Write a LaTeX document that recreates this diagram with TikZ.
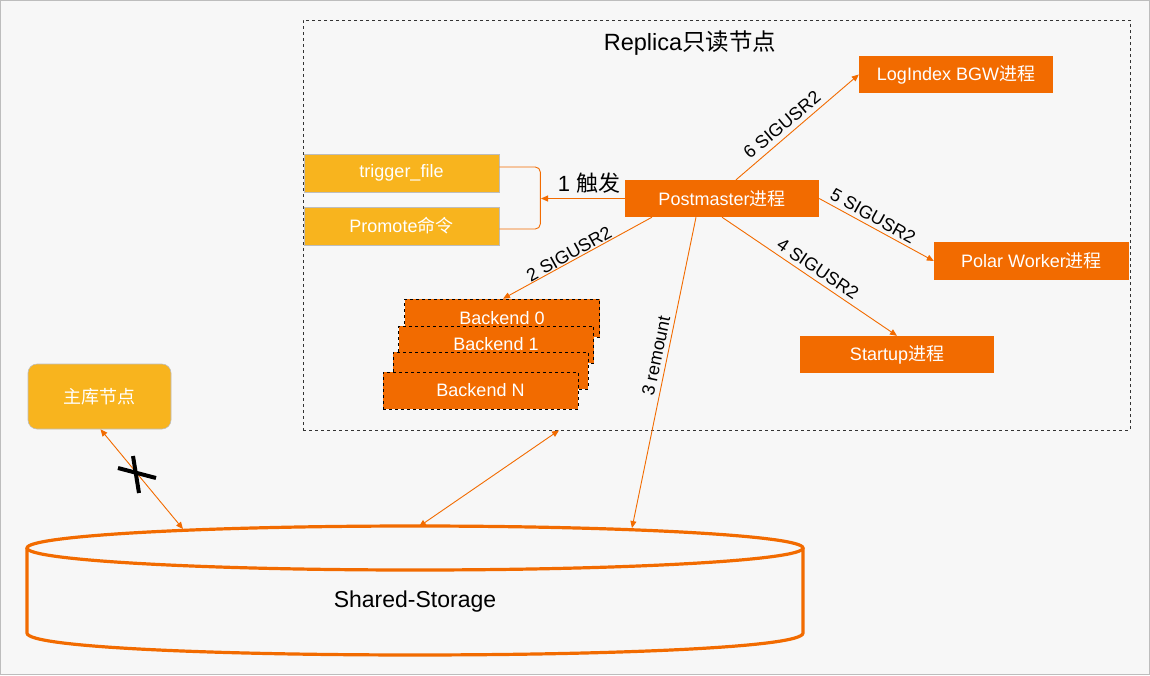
\documentclass[tikz,border=0pt]{standalone}
\usepackage{fontspec}
\setmainfont{Liberation Sans}
\newfontfamily\cjk{Noto Sans CJK SC}
\usetikzlibrary{arrows.meta,calc}
\definecolor{org}{HTML}{F26B00}
\definecolor{ylw}{HTML}{F8B41E}
\definecolor{bgc}{HTML}{F7F7F7}
\definecolor{frm}{HTML}{BDBDBD}
\begin{document}
\begin{tikzpicture}[x=1pt,y=-1pt,
  proc/.style={fill=org,text=white,minimum width=194pt,minimum height=37pt,inner sep=0pt,font=\fontsize{18}{20}\selectfont},
  trig/.style={fill=ylw,draw=frm,line width=0.6pt,text=white,minimum width=195pt,minimum height=38pt,inner sep=0pt,font=\fontsize{18}{20}\selectfont},
  backbox/.style={proc,draw=black,dashed,line width=0.6pt,minimum width=195pt},
  conn/.style={draw=org,line width=0.9pt,-{Triangle[length=7pt,width=6pt]}},
  dconn/.style={draw=org,line width=0.9pt,{Triangle[length=7pt,width=6pt]}-{Triangle[length=7pt,width=6pt]}},
  lbl/.style={inner sep=1pt,font=\fontsize{18}{20}\selectfont,text=black}]
\useasboundingbox (0,0) rectangle (1150,675);
\draw[fill=bgc,draw=frm,line width=1pt] (0.5,0.5) rectangle (1149.5,674.5);

% replica frame
\node[draw=black!80,dashed,line width=0.6pt,minimum width=827pt,minimum height=410pt,inner sep=0pt] (rep) at (716.5,225) {};
\node[font=\fontsize{23.5}{26}\selectfont] (title) at (690,43) {Replica{\cjk 只读节点}};

% processes
\node[proc] (log) at (956,74.5) {LogIndex BGW{\cjk 进程}};
\node[proc] (pm) at (722,198.5) {Postmaster{\cjk 进程}};
\node[proc,minimum width=195pt,minimum height=38pt] (pw) at (1031.5,261) {Polar Worker{\cjk 进程}};
\node[proc] (st) at (897,354.5) {Startup{\cjk 进程}};

% triggers
\node[trig] (tf) at (401.5,173) {trigger\_file};
\node[trig] (pr) at (401.5,226) {Promote{\cjk 命令}};

% backends
\node[backbox,minimum height=38pt] (b0) at (502,318) {Backend 0};
\node[backbox] (b1) at (496,344.5) {Backend 1};
\node[backbox] (b2) at (490.5,370.5) {};
\node[backbox] (bn) at (480.5,390.5) {Backend N};

% primary
\node[fill=ylw,draw=frm,line width=0.6pt,rounded corners=9pt,minimum width=143pt,minimum height=65pt,inner sep=0pt,text=white,font=\fontsize{18}{20}\selectfont] (main) at (99.5,396.5) {{\cjk 主库节点}};

% shared storage
\draw[org,line width=3.2pt] (415,548) ellipse [x radius=388, y radius=22];
\draw[org,line width=3.2pt] (27,548) -- (27,633) .. controls (27,662.3) and (803,662.3) .. (803,633) -- (803,548);
\node[font=\fontsize{23}{25}\selectfont] (ss) at (415,602) {Shared-Storage};
\coordinate (sA) at (183,529);
\coordinate (sB) at (419,526.5);
\coordinate (sC) at (632,528);

% bracket
\draw[org,line width=0.9pt,rounded corners=5pt] ([yshift=6pt]tf.east) -- ++(41,0) |- ([yshift=-3pt]pr.east);
\coordinate (brk) at (541,198.5);

% connectors
\draw[conn] (pm.west) -- (brk);
\node[font=\fontsize{22}{24}\selectfont] (l1) at (589,183) {1 {\cjk 触发}};

\draw[conn] ([xshift=14pt]pm.north) -- (log.west);
\node[lbl,rotate=40] (l6) at (782,125) {6 SIGUSR2};

\draw[conn] (pm.east) -- (pw.west);
\node[lbl,rotate=-29] (l5) at (873,216) {5 SIGUSR2};

\draw[conn] (pm.south) -- (st.north);
\node[lbl,rotate=-34] (l4) at (818,269) {4 SIGUSR2};

\draw[conn] ([xshift=-70pt]pm.south) -- ([xshift=1pt]b0.north);
\node[lbl,rotate=29] (l2) at (569,254) {2 SIGUSR2};

\draw[conn] ([xshift=-26pt]pm.south) -- (sC);
\node[lbl,rotate=78] (l3) at (656,356) {3 remount};

\draw[dconn] ([xshift=-157.5pt]rep.south) -- (sB);
\draw[dconn] ([xshift=1pt]main.south) -- (sA);

% blocked mark
\draw[black,line width=4pt] (118,468) -- (156,478);
\draw[black,line width=4pt] (133,456) -- (139,493);
\end{tikzpicture}
\end{document}
